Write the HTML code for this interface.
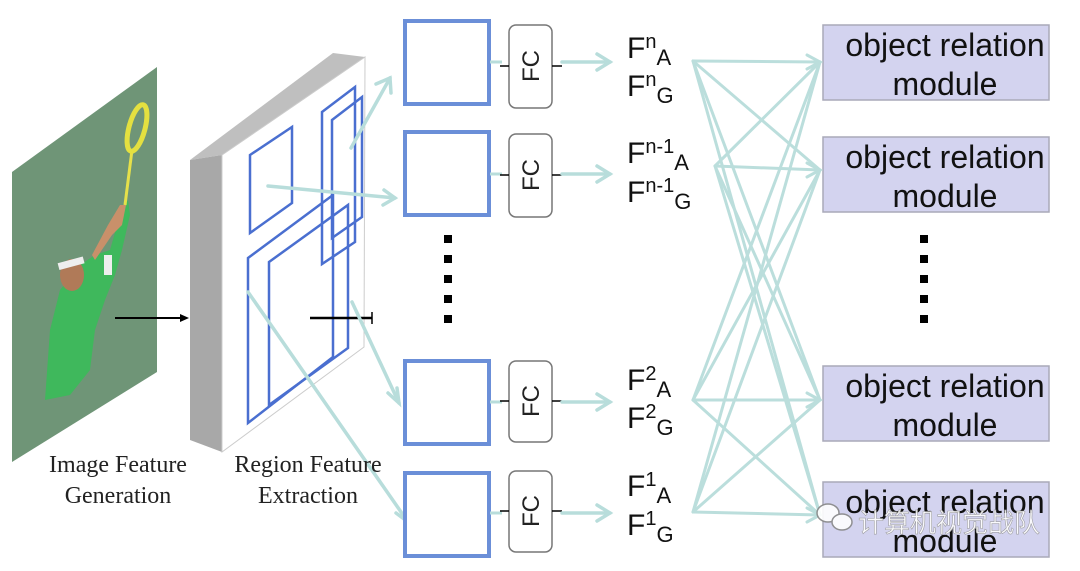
<!DOCTYPE html>
<html><head><meta charset="utf-8"><style>
html,body{margin:0;padding:0;background:#fff;}
svg{display:block;}
</style></head><body>
<svg width="1080" height="571" viewBox="0 0 1080 571" xmlns="http://www.w3.org/2000/svg">
<!-- image -->
<polygon points="12,172 157,67 157,372 12,462" fill="#6f9577"/>
<path d="M45,400 L50,330 L60,290 L80,265 L95,255 L110,250 L120,215 L128,200 L130,215 L122,250 L115,275 L105,300 L95,330 L90,370 L70,395 Z" fill="#3fb85c"/>
<ellipse cx="72" cy="275" rx="12" ry="16" fill="#b07a58"/>
<rect x="58" y="260" width="26" height="7" fill="#eee" transform="rotate(-15 70 263)"/>
<path d="M95,260 L112,235 L122,225 L126,205 L120,205 L108,225 L92,255 Z" fill="#c9906a"/>
<rect x="104" y="255" width="8" height="20" fill="#eee"/>
<line x1="125" y1="205" x2="132" y2="150" stroke="#e6e04a" stroke-width="3"/>
<ellipse cx="137" cy="128" rx="8" ry="24" fill="none" stroke="#e4e040" stroke-width="5" transform="rotate(15 137 128)"/>
<line x1="115" y1="318" x2="182" y2="318" stroke="#000" stroke-width="2"/>
<polygon points="189,318 180,314 180,322" fill="#000"/>
<!-- slab -->
<polygon points="190,160 333,53 365,57 222,155" fill="#bfbfbf"/>
<polygon points="190,160 222,155 222,452 190,440" fill="#a8a8a8"/>
<polygon points="222,155 365,57 364,347 222,452" fill="#fff" stroke="#ccc" stroke-width="1"/>
<g fill="none" stroke="#4a6fd0" stroke-width="2.5">
<polygon points="250,155 292,127 292,203 250,233"/>
<polygon points="322,112 355,87 355,242 322,264"/>
<polygon points="332,120 362,97 362,217 332,238"/>
<polygon points="248,258 333,195 333,357 248,423"/>
<polygon points="269,262 348,205 348,348 269,405"/>
</g>
<line x1="310" y1="318" x2="372" y2="318" stroke="#000" stroke-width="2.5"/>
<line x1="372" y1="312" x2="372" y2="324" stroke="#000" stroke-width="1.5"/>
<g stroke="#b8dddb" stroke-width="3.5" fill="none" stroke-linecap="round">
<line x1="351" y1="148" x2="390" y2="78"/><polyline points="376,84 390,78 391,93"/>
<line x1="268" y1="186" x2="395" y2="198"/><polyline points="384,190 395,198 383,205"/>
<line x1="352" y1="302" x2="399" y2="403"/><polyline points="397,388 399,403 388,393"/>
<line x1="248" y1="292" x2="408" y2="522"/><polyline points="405,507 408,522 396,513"/>
</g>
<g font-family="Liberation Serif, serif" font-size="24" fill="#222" text-anchor="middle">
<text x="118" y="472">Image Feature</text>
<text x="118" y="503">Generation</text>
<text x="308" y="472">Region Feature</text>
<text x="308" y="503">Extraction</text>
</g>
<!-- boxes -->
<g fill="#fff" stroke="#6b8fd8" stroke-width="4">
<rect x="405" y="21" width="84" height="83"/>
<rect x="405" y="132" width="84" height="83"/>
<rect x="405" y="361" width="84" height="83"/>
<rect x="405" y="473" width="84" height="83"/>
</g>
<g fill="#000">
<rect x="444" y="235" width="8" height="8"/><rect x="444" y="255" width="8" height="8"/><rect x="444" y="275" width="8" height="8"/><rect x="444" y="295" width="8" height="8"/><rect x="444" y="315" width="8" height="8"/>
<rect x="920" y="235" width="8" height="8"/><rect x="920" y="255" width="8" height="8"/><rect x="920" y="275" width="8" height="8"/><rect x="920" y="295" width="8" height="8"/><rect x="920" y="315" width="8" height="8"/>
</g>
<!-- FC blocks -->
<g fill="#fff" stroke="#777" stroke-width="1.5">
<rect x="509" y="25" width="43" height="83" rx="7"/>
<rect x="509" y="134" width="43" height="83" rx="7"/>
<rect x="509" y="361" width="43" height="81" rx="7"/>
<rect x="509" y="471" width="43" height="81" rx="7"/>
</g>
<g stroke="#b8dddb" stroke-width="3">
<line x1="490" y1="62" x2="502" y2="62"/><line x1="490" y1="174" x2="502" y2="174"/><line x1="490" y1="402" x2="502" y2="402"/><line x1="490" y1="513" x2="502" y2="513"/>
</g>
<g stroke="#000" stroke-width="1.5">
<line x1="500" y1="66" x2="509" y2="66"/><line x1="500" y1="175" x2="509" y2="175"/><line x1="500" y1="401" x2="509" y2="401"/><line x1="500" y1="511" x2="509" y2="511"/>
<line x1="552" y1="66" x2="562" y2="66"/><line x1="552" y1="175" x2="562" y2="175"/><line x1="552" y1="401" x2="562" y2="401"/><line x1="552" y1="511" x2="562" y2="511"/>
</g>
<g font-family="Liberation Sans, sans-serif" font-size="24" fill="#222" text-anchor="middle">
<text transform="translate(539 66) rotate(-90)">FC</text>
<text transform="translate(539 175) rotate(-90)">FC</text>
<text transform="translate(539 401) rotate(-90)">FC</text>
<text transform="translate(539 511) rotate(-90)">FC</text>
</g>
<g stroke="#b8dddb" stroke-width="3.5" fill="none" stroke-linecap="round">
<line x1="562" y1="62" x2="610" y2="62"/><polyline points="597,54 610,62 597,70"/>
<line x1="562" y1="174" x2="610" y2="174"/><polyline points="597,166 610,174 597,182"/>
<line x1="562" y1="402" x2="610" y2="402"/><polyline points="597,394 610,402 597,410"/>
<line x1="562" y1="513" x2="610" y2="513"/><polyline points="597,505 610,513 597,521"/>
</g>
<!-- F labels -->
<g font-family="Liberation Sans, sans-serif" font-size="30" fill="#111">
<text x="627" y="58">F<tspan font-size="20" dy="-10">n</tspan><tspan font-size="22" dy="17">A</tspan></text>
<text x="627" y="96">F<tspan font-size="20" dy="-10">n</tspan><tspan font-size="22" dy="17">G</tspan></text>
<text x="627" y="163">F<tspan font-size="20" dy="-10">n-1</tspan><tspan font-size="22" dy="17">A</tspan></text>
<text x="627" y="202">F<tspan font-size="20" dy="-10">n-1</tspan><tspan font-size="22" dy="17">G</tspan></text>
<text x="627" y="390">F<tspan font-size="20" dy="-10">2</tspan><tspan font-size="22" dy="17">A</tspan></text>
<text x="627" y="428">F<tspan font-size="20" dy="-10">2</tspan><tspan font-size="22" dy="17">G</tspan></text>
<text x="627" y="496">F<tspan font-size="20" dy="-10">1</tspan><tspan font-size="22" dy="17">A</tspan></text>
<text x="627" y="535">F<tspan font-size="20" dy="-10">1</tspan><tspan font-size="22" dy="17">G</tspan></text>
</g>
<!-- modules -->
<g fill="#d3d3ef" stroke="#a9a9b8" stroke-width="1.5">
<rect x="823" y="25" width="226" height="75"/>
<rect x="823" y="137" width="226" height="75"/>
<rect x="823" y="366" width="226" height="75"/>
<rect x="823" y="482" width="226" height="75"/>
</g>
<g font-family="Liberation Sans, sans-serif" font-size="32" fill="#111" text-anchor="middle">
<text x="945" y="56">object relation</text><text x="945" y="95">module</text>
<text x="945" y="168">object relation</text><text x="945" y="207">module</text>
<text x="945" y="397">object relation</text><text x="945" y="436">module</text>
<text x="945" y="513">object relation</text><text x="945" y="552">module</text>
</g>
<!-- connections -->
<g stroke="#b8dddb" stroke-width="3" fill="none" stroke-linecap="round" opacity="0.95">
<line x1="693" y1="61" x2="820" y2="62"/><line x1="693" y1="61" x2="820" y2="170"/><line x1="693" y1="61" x2="820" y2="400"/><line x1="693" y1="61" x2="820" y2="515"/>
<line x1="715" y1="166" x2="820" y2="62"/><line x1="715" y1="166" x2="820" y2="170"/><line x1="715" y1="166" x2="820" y2="400"/><line x1="715" y1="166" x2="820" y2="515"/>
<line x1="693" y1="400" x2="820" y2="62"/><line x1="693" y1="400" x2="820" y2="170"/><line x1="693" y1="400" x2="820" y2="400"/><line x1="693" y1="400" x2="820" y2="515"/>
<line x1="693" y1="512" x2="820" y2="62"/><line x1="693" y1="512" x2="820" y2="170"/><line x1="693" y1="512" x2="820" y2="400"/><line x1="693" y1="512" x2="820" y2="515"/>
<polyline points="807,55 820,62 807,69"/><polyline points="807,163 820,170 807,177"/><polyline points="807,393 820,400 807,407"/><polyline points="807,508 820,515 807,522"/>
</g>
<!-- watermark -->
<g opacity="0.9">
<ellipse cx="828" cy="513" rx="11" ry="9" fill="#fff" stroke="#888" stroke-width="1.5"/>
<ellipse cx="842" cy="522" rx="10" ry="8" fill="#fff" stroke="#888" stroke-width="1.5"/>
<text x="858" y="532" font-family="Liberation Sans, 'Noto Sans CJK SC', sans-serif" font-size="26" fill="#fff" stroke="#999" stroke-width="0.6">计算机视觉战队</text>
</g>
</svg>
</body></html>
